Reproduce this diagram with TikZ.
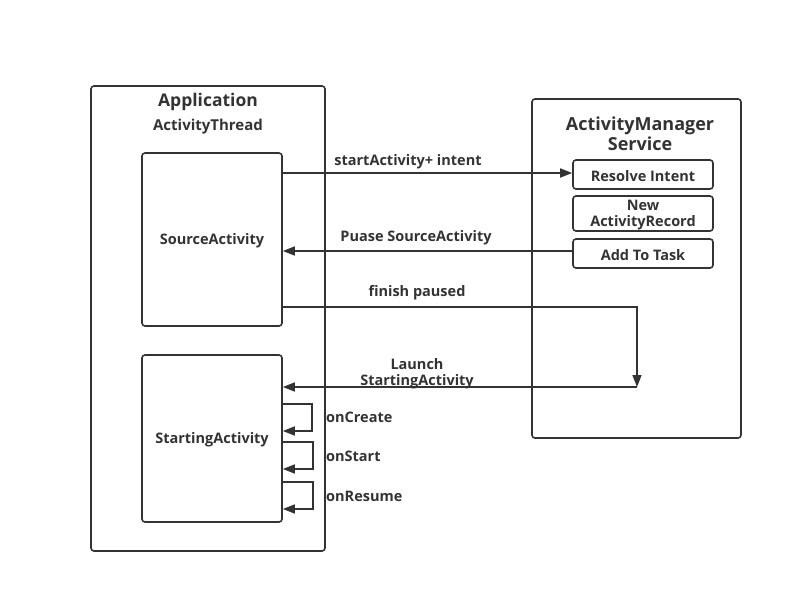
\documentclass[tikz,border=0pt]{standalone}
\usepackage{fontspec}
\setmainfont{Open Sans}
\usetikzlibrary{arrows.meta}
\definecolor{ink}{HTML}{333333}
\begin{document}
\begin{tikzpicture}[x=1pt,y=-1pt,
  box/.style={draw=ink,line width=1.6pt,rounded corners=3pt},
  lbl/.style={text=ink,font=\fontsize{14.5}{15}\selectfont\bfseries,inner sep=0pt},
  conn/.style={draw=ink,line width=1.6pt,-{Triangle[length=12pt,width=9pt]}},
  line cap=butt]
\useasboundingbox (0,0) rectangle (803,614);
% Application
\draw[box] (91,86) rectangle (325,551);
\node[lbl,font=\fontsize{17.5}{18}\selectfont\bfseries] (app) at (208,102) {Application};
\node[lbl,font=\fontsize{15}{16}\selectfont\bfseries] (at) at (208,127) {ActivityThread};
\node[box,minimum width=140pt,minimum height=173pt,inner sep=0pt] (src) at (212,239.5) {};
\node[lbl] at (212,241) {SourceActivity};
\node[box,minimum width=140pt,minimum height=167pt,inner sep=0pt] (sta) at (212,438.5) {};
\node[lbl] at (212,440) {StartingActivity};
% AMS
\draw[box] (532,99) rectangle (741,438);
\node[lbl,font=\fontsize{18}{20}\selectfont\bfseries,align=center] (ams) at (640,134) {ActivityManager\\Service};
\node[box,minimum width=140pt,minimum height=29pt,inner sep=0pt] (ri) at (643,174.5) {};
\node[lbl] at (643,176) {Resolve Intent};
\node[box,minimum width=140pt,minimum height=35pt,inner sep=0pt] (nar) at (643,213.5) {};
\node[lbl,align=center,font=\fontsize{14.5}{16}\selectfont\bfseries] at (643,215) {New\\ActivityRecord};
\node[box,minimum width=140pt,minimum height=29pt,inner sep=0pt] (att) at (643,253.5) {};
\node[lbl] at (643,255) {Add To Task};
% connectors
\coordinate (s1) at (src.east |- 0,173);
\draw[conn] (s1) -- (ri.west |- s1);
\node[lbl] at (408,162) {startActivity+ intent};
\coordinate (p1) at (att.west |- 0,251);
\draw[conn] (p1) -- (src.east |- p1);
\node[lbl] at (416,238) {Puase SourceActivity};
\coordinate (f1) at (src.east |- 0,307);
\coordinate (f2) at (637,307);
\coordinate (f3) at (637,387);
\draw[conn] (f1) -- (f2) -- (f3);
\node[lbl] at (417,293) {finish paused};
\draw[conn] (f3) -- (sta.east |- f3);
\node[lbl,align=center,font=\fontsize{14.5}{16}\selectfont\bfseries] at (417,374) {Launch\\StartingActivity};
% self loops
\draw[conn] (sta.east |- 0,404) -- (312,404) -- (312,431) -- (sta.east |- 0,431);
\node[lbl,anchor=west] at (326,417) {onCreate};
\draw[conn] (sta.east |- 0,442) -- (313,442) -- (313,469) -- (sta.east |- 0,469);
\node[lbl,anchor=west] at (326,456) {onStart};
\draw[conn] (sta.east |- 0,482) -- (313,482) -- (313,509) -- (sta.east |- 0,509);
\node[lbl,anchor=west] at (326,496) {onResume};
\end{tikzpicture}
\end{document}
